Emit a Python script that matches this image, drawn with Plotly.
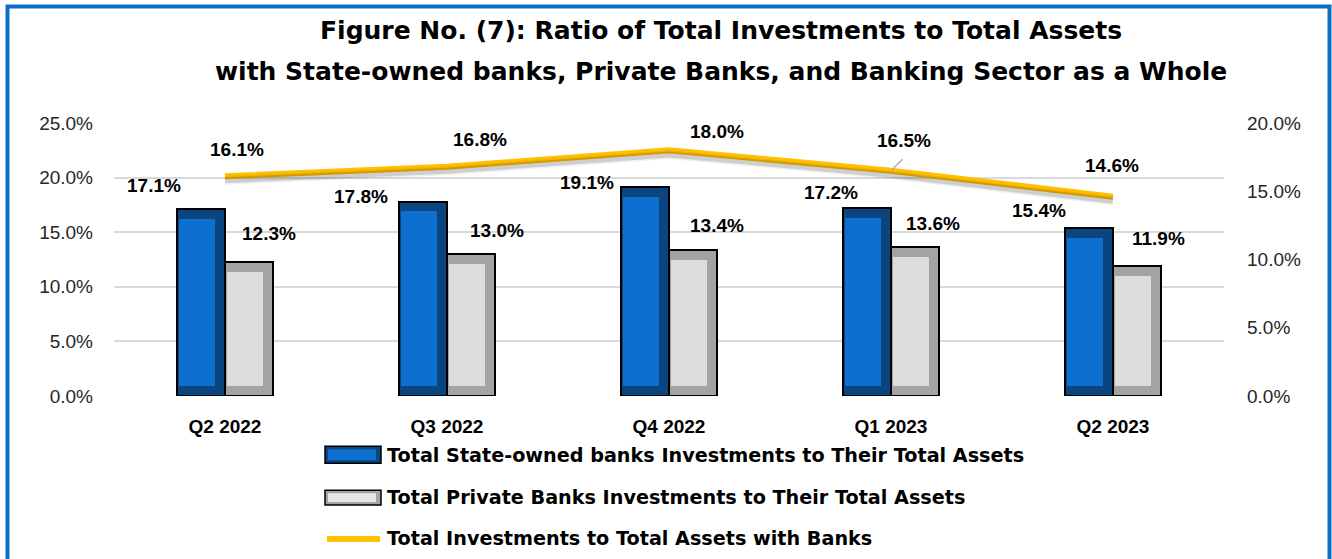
import numpy as np
import plotly.graph_objects as go

# ---- data -------------------------------------------------------------
quarters = ["Q2 2022", "Q3 2022", "Q4 2022", "Q1 2023", "Q2 2023"]
state_owned = [17.1, 17.8, 19.1, 17.2, 15.4]      # % of their total assets
private_banks = [12.3, 13.0, 13.4, 13.6, 11.9]    # % of their total assets
sector_total = [16.1, 16.8, 18.0, 16.5, 14.6]     # % (right axis)

legend_names = [
    "Total State-owned banks Investments to Their Total Assets",
    "Total Private Banks Investments to Their Total Assets",
    "Total Investments to Total Assets with Banks",
]
title_lines = [
    "Figure No. (7): Ratio of Total Investments to Total Assets",
    "with State-owned banks, Private Banks, and Banking Sector as a Whole",
]

# label nudges in pixels (dx, dy) relative to the mark they describe
state_nudge = [(-71, 24), (-86, 5), (-82, 5), (-60, 16), (-74, 17)]
private_nudge = [(44, 28), (50, 24), (48, 24), (42, 24), (45, 28)]
total_nudge = [(12, 27), (33, 27), (48, 19), (13, 30), (-1, 31)]

# ---- geometry / style ---------------------------------------------------
W, H = 1332, 559
L, R, T, B = 114, 108, 122.5, 162.5
PW, PH = W - L - R, H - T - B

def px(x):
    return (x - L) / PW

def py(y):
    return (H - B - y) / PH

BAR_W = 0.216
BEVEL = 0.9  # inner face inset in axis units
TXT = "Liberation Sans, Arial, sans-serif"
HEAD = "DejaVu Sans, sans-serif"

state = np.array(state_owned)
private = np.array(private_banks)

fig = go.Figure()

# State-owned banks bars: dark outer frame + lit inner face
fig.add_trace(go.Bar(
    x=quarters, y=state, width=BAR_W, offset=-BAR_W,
    marker=dict(color="#0a4580", line=dict(color="#000000", width=2)),
    hoverinfo="skip", showlegend=False,
))
fig.add_trace(go.Bar(
    x=quarters, y=state - 2 * BEVEL, base=BEVEL,
    width=BAR_W - 0.055, offset=-BAR_W + 0.01,
    marker=dict(color="#0d6fd0", line=dict(width=0)),
    hoverinfo="skip", showlegend=False,
))
# Private banks bars
fig.add_trace(go.Bar(
    x=quarters, y=private, width=BAR_W, offset=0,
    marker=dict(color="#a3a3a3", line=dict(color="#000000", width=2)),
    hoverinfo="skip", showlegend=False,
))
fig.add_trace(go.Bar(
    x=quarters, y=private - 2 * BEVEL, base=BEVEL,
    width=BAR_W - 0.055, offset=0.01,
    marker=dict(color="#dcdcdc", line=dict(width=0)),
    hoverinfo="skip", showlegend=False,
))

# soft drop shadow under the sector line (same values, axis nudged down)
for w, a in [(9, 0.06), (6, 0.14)]:
    fig.add_trace(go.Scatter(
        x=quarters, y=sector_total, yaxis="y3", mode="lines",
        line=dict(color=f"rgba(0,0,0,{a})", width=w),
        hoverinfo="skip", showlegend=False,
    ))
fig.add_trace(go.Scatter(
    x=quarters, y=sector_total, yaxis="y2", mode="lines",
    line=dict(color="#ffc000", width=6),
    hoverinfo="skip", showlegend=False,
))

annotations = []
lab_font = dict(family=TXT, size=19, color="#000000", weight="bold")

for q, v, (dx, dy) in zip(quarters, state_owned, state_nudge):
    annotations.append(dict(x=q, y=v, xref="x", yref="y", text=f"{v:.1f}%",
                            showarrow=False, xshift=dx, yshift=dy, font=lab_font))
for q, v, (dx, dy) in zip(quarters, private_banks, private_nudge):
    annotations.append(dict(x=q, y=v, xref="x", yref="y", text=f"{v:.1f}%",
                            showarrow=False, xshift=dx, yshift=dy, font=lab_font))
for q, v, (dx, dy) in zip(quarters, sector_total, total_nudge):
    annotations.append(dict(x=q, y=v, xref="x", yref="y2", text=f"{v:.1f}%",
                            showarrow=False, xshift=dx, yshift=dy, font=lab_font))

# leader line for the Q1 2023 sector label
annotations.append(dict(x=quarters[3], y=sector_total[3], xref="x", yref="y2",
                        text="", showarrow=True, arrowhead=0, arrowwidth=1.2,
                        arrowcolor="#a6a6a6", ax=12, ay=-12, xshift=1, yshift=1))

# title
for line, yy in zip(title_lines, [30, 71]):
    annotations.append(dict(x=px(721), y=py(yy), xref="paper", yref="paper",
                            text=line, showarrow=False,
                            xanchor="center", yanchor="middle",
                            font=dict(family=HEAD, size=25, color="#000000",
                                      weight="bold")))

# legend text
for name, yy in zip(legend_names, [456, 498, 540]):
    annotations.append(dict(x=px(385), y=py(yy), xref="paper", yref="paper",
                            text=name, showarrow=False,
                            xanchor="left", yanchor="middle",
                            font=dict(family=HEAD, size=19.2, color="#000000",
                                      weight="bold")))

shapes = [
    # legend swatches
    dict(type="rect", xref="paper", yref="paper", x0=px(325), x1=px(381),
         y0=py(447), y1=py(464), fillcolor="#0a4580",
         line=dict(color="#000000", width=1.5)),
    dict(type="rect", xref="paper", yref="paper", x0=px(328), x1=px(376),
         y0=py(450), y1=py(461), fillcolor="#0d6fd0", line=dict(width=0)),
    dict(type="rect", xref="paper", yref="paper", x0=px(325), x1=px(381),
         y0=py(491), y1=py(506), fillcolor="#a3a3a3",
         line=dict(color="#000000", width=1.5)),
    dict(type="rect", xref="paper", yref="paper", x0=px(328), x1=px(376),
         y0=py(494), y1=py(503), fillcolor="#e6e6e6", line=dict(width=0)),
    dict(type="line", xref="paper", yref="paper", x0=px(327), x1=px(380),
         y0=py(540), y1=py(540), line=dict(color="#ffc000", width=6)),
    # outer frame
    dict(type="rect", xref="paper", yref="paper", x0=px(7.5), x1=px(1329.5),
         y0=py(5.5), y1=py(566), line=dict(color="#0b70c4", width=4),
         fillcolor="rgba(0,0,0,0)", layer="above"),
]

tick_font = dict(family=TXT, size=19, color="#262626")

fig.update_layout(
    width=W, height=H,
    margin=dict(l=L, r=R, t=T, b=B, pad=0),
    paper_bgcolor="#ffffff", plot_bgcolor="#ffffff",
    barmode="overlay", bargap=0,
    showlegend=False,
    xaxis=dict(type="category", range=[-0.5, 4.5], showgrid=False,
               showline=False, zeroline=False, ticks="",
               tickfont=dict(family=TXT, size=19, color="#000000", weight="bold"),
               ticklabelstandoff=17),
    yaxis=dict(range=[0, 25], dtick=5, tickformat=".1f", ticksuffix="%",
               showgrid=True, gridcolor="#d9d9d9", gridwidth=1.5,
               zeroline=False, showline=False, ticks="",
               tickfont=tick_font, ticklabelstandoff=20),
    yaxis2=dict(range=[0, 20], dtick=5, tickformat=".1f", ticksuffix="%",
                overlaying="y", side="right", showgrid=False,
                zeroline=False, showline=False, ticks="",
                tickfont=tick_font, ticklabelstandoff=22),
    yaxis3=dict(range=[0.3, 20.3], overlaying="y", visible=False),
    annotations=annotations,
    shapes=shapes,
)

fig.write_html("out.html")
